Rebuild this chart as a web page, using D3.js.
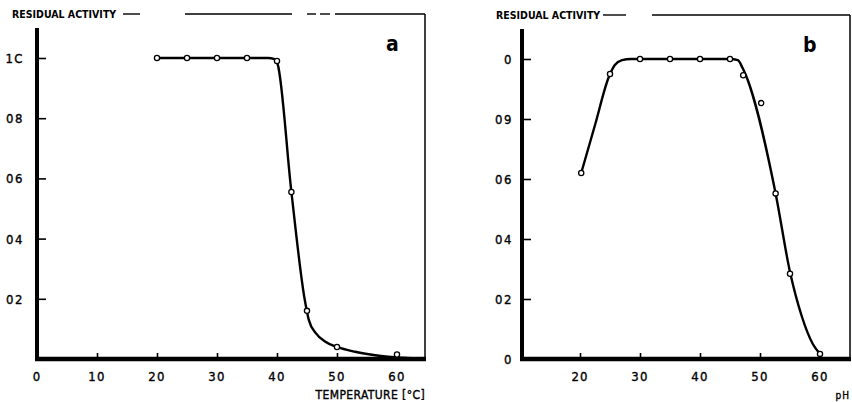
<!DOCTYPE html>
<html>
<head>
<meta charset="utf-8">
<script src="https://cdn.jsdelivr.net/npm/d3@7"></script>
<style>
  html, body { margin: 0; padding: 0; background: #fff; }
  svg { display: block; }
  text { font-family: "DejaVu Sans Condensed", "DejaVu Sans", sans-serif; font-stretch: condensed; fill: #000; }
  .lab { stroke: #000; stroke-width: 0.35; }
</style>
</head>
<body>
<svg id="chart" width="852" height="402"></svg>
<script>
// Panel a: thermal stability
const tempPoints = [[20, 1.0], [25, 1.0], [30, 1.0], [35, 1.0], [40, 0.99], [42.4, 0.555], [45, 0.16], [50, 0.04], [60, 0.015]];
const tempCurve = [[20, 1.0], [38.5, 1.0], [39.5, 0.997], [40.1, 0.98], [42.4, 0.555], [44.6, 0.2], [45.3, 0.13], [46.5, 0.085], [48, 0.058], [50, 0.04], [53, 0.024], [57, 0.011], [61, 0.004], [64.5, 0.0]];
const tempXTicks = [0, 10, 20, 30, 40, 50, 60];
const tempXLabels = ["0", "10", "20", "30", "40", "50", "60"];
const tempYTicks = [1.0, 0.8, 0.6, 0.4, 0.2];
const tempYLabels = ["1C", "08", "06", "04", "02"];

// Panel b: pH stability
const phPoints = [[20.2, 0.62], [25, 0.95], [30, 1.0], [35, 1.0], [40, 1.0], [45, 1.0], [47.2, 0.946], [50.2, 0.853], [52.6, 0.552], [55, 0.284], [60, 0.017]];
const phCurve = [[20.2, 0.62], [22.5, 0.78], [24.8, 0.94], [25.8, 0.98], [27, 0.996], [28.5, 1.0], [45, 1.0], [46.3, 0.996], [47.1, 0.97], [52.6, 0.552], [55, 0.29], [57, 0.14], [58.8, 0.05], [60, 0.017]];
const phXTicks = [20, 30, 40, 50, 60];
const phXLabels = ["20", "30", "40", "50", "60"];
const phYTicks = [1.0, 0.8, 0.6, 0.4, 0.2, 0];
const phYLabels = ["0", "09", "06", "04", "02", "0"];

const svg = d3.select("#chart");

function drawPanel(p) {
  const x = d3.scaleLinear().domain(p.xDomain).range([p.left, p.right]);
  const y = d3.scaleLinear().domain([0, 1]).range([p.bottom, p.yTop]);
  const g = svg.append("g");

  // top frame segments and right border
  p.topSegments.forEach(s => {
    g.append("line").attr("x1", s[0]).attr("x2", s[1]).attr("y1", p.frameTop).attr("y2", p.frameTop)
      .attr("stroke", "#000").attr("stroke-width", 1.4);
  });
  g.append("line").attr("x1", p.right).attr("x2", p.right).attr("y1", p.frameTop).attr("y2", p.bottom)
    .attr("stroke", "#000").attr("stroke-width", 1.5);

  g.append("text").attr("x", p.titleX).attr("y", p.frameTop + 4)
    .attr("font-size", 10.5).attr("font-weight", "bold").text("RESIDUAL ACTIVITY");

  // y axis
  const yAxis = d3.axisRight(y).tickValues(p.yTicks).tickSize(9).tickFormat("");
  const ya = g.append("g").attr("transform", `translate(${p.left},0)`).call(yAxis);
  ya.select(".domain").remove();
  ya.selectAll(".tick line").attr("stroke", "#000").attr("stroke-width", 1.6);
  g.append("line").attr("x1", p.left).attr("x2", p.left).attr("y1", p.axisTop).attr("y2", p.bottom + 2)
    .attr("stroke", "#000").attr("stroke-width", 4);
  g.selectAll(".ylab").data(p.yTicks).enter().append("text").attr("class", "lab")
    .attr("x", p.left - p.yLabGap).attr("y", d => y(d) + 5)
    .attr("text-anchor", "end").attr("font-size", 13).attr("letter-spacing", 1.5)
    .text((d, i) => p.yLabels[i]);

  // x axis
  const xAxis = d3.axisTop(x).tickValues(p.xTicks).tickSize(6).tickFormat("");
  const xa = g.append("g").attr("transform", `translate(0,${p.bottom})`).call(xAxis);
  xa.select(".domain").remove();
  xa.selectAll(".tick line").attr("stroke", "#000").attr("stroke-width", 1.6);
  g.append("line").attr("x1", p.left - 2).attr("x2", p.right + 1).attr("y1", p.bottom).attr("y2", p.bottom)
    .attr("stroke", "#000").attr("stroke-width", 4.5);
  g.selectAll(".xlab").data(p.xTicks).enter().append("text").attr("class", "lab")
    .attr("x", d => x(d)).attr("y", p.bottom + 22)
    .attr("text-anchor", "middle").attr("font-size", 13).attr("letter-spacing", 1.2)
    .text((d, i) => p.xLabels[i]);

  // fitted curve
  const line = d3.line().x(d => x(d[0])).y(d => y(d[1])).curve(d3.curveMonotoneX);
  g.append("path").attr("d", line(p.curve)).attr("fill", "none")
    .attr("stroke", "#000").attr("stroke-width", 2.4).attr("stroke-linejoin", "round");

  // measured points
  g.selectAll(".pt").data(p.points).enter().append("circle")
    .attr("cx", d => x(d[0])).attr("cy", d => y(d[1])).attr("r", 2.6)
    .attr("fill", "#fff").attr("stroke", "#000").attr("stroke-width", 1.3);

  // panel letter
  g.append("text").attr("x", p.letterX).attr("y", p.letterY)
    .attr("font-size", 21).attr("font-weight", "bold").attr("font-family", "DejaVu Sans, sans-serif")
    .text(p.letter);

  // x axis title
  g.append("text").attr("class", "lab").attr("x", p.right).attr("y", 399)
    .attr("text-anchor", "end").attr("font-size", p.xTitleSize).attr("letter-spacing", p.xTitleSpacing)
    .text(p.xTitle);
}

drawPanel({
  xDomain: [0, 64.67], left: 37, right: 425, bottom: 359, yTop: 58, axisTop: 28, frameTop: 14,
  topSegments: [[123, 140], [185, 292], [307, 316], [320, 330], [335, 425]],
  titleX: 12, yTicks: tempYTicks, yLabels: tempYLabels, yLabGap: 13,
  xTicks: tempXTicks, xLabels: tempXLabels, curve: tempCurve, points: tempPoints,
  letter: "a", letterX: 386, letterY: 51, xTitle: "TEMPERATURE [°C]", xTitleSize: 12, xTitleSpacing: 0.4
});

drawPanel({
  xDomain: [10.33, 65], left: 522, right: 850, bottom: 359, yTop: 59, axisTop: 29, frameTop: 15,
  topSegments: [[603, 626], [652, 850]],
  titleX: 496, yTicks: phYTicks, yLabels: phYLabels, yLabGap: 9,
  xTicks: phXTicks, xLabels: phXLabels, curve: phCurve, points: phPoints,
  letter: "b", letterX: 803, letterY: 52, xTitle: "pH", xTitleSize: 10, xTitleSpacing: 1
});
</script>
</body>
</html>
